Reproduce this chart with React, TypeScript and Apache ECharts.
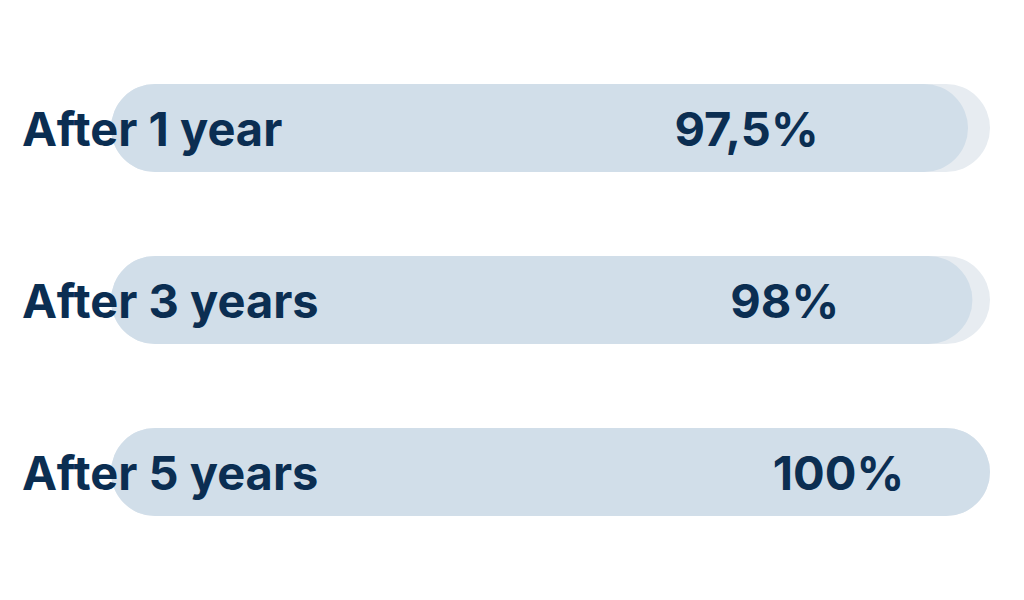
import React, { useEffect, useRef } from "react";
import * as echarts from "echarts";

const categories = ["After 1 year", "After 3 years", "After 5 years"];
const values = [97.5, 98, 100];
const valueLabels = ["97,5%", "98%", "100%"];
const labelOffsets = [207, 243, 288];

const TEXT = "#0b2e52";
const FONT = "Inter, 'DejaVu Sans', sans-serif";

export default function App() {
  const ref = useRef<HTMLDivElement>(null);
  useEffect(() => {
    const chart = echarts.init(ref.current!, undefined, { renderer: "svg" });
    chart.setOption({
      animation: false,
      backgroundColor: "#ffffff",
      grid: { left: 111, right: 34, top: 42, bottom: 42, containLabel: false },
      xAxis: {
        type: "value",
        min: 0,
        max: 100,
        show: false,
      },
      yAxis: {
        type: "category",
        data: categories,
        inverse: true,
        z: 10,
        axisLine: { show: false },
        axisTick: { show: false },
        splitLine: { show: false },
        axisLabel: {
          align: "left",
          margin: 89,
          color: TEXT,
          fontFamily: FONT,
          fontWeight: "bold",
          fontSize: 47,
        },
      },
      series: [
        {
          type: "bar",
          data: values.map((v, i) => ({
            value: v,
            label: {
              show: true,
              position: "inside",
              offset: [labelOffsets[i], 0],
              formatter: valueLabels[i],
            },
          })),
          barWidth: 88,
          showBackground: true,
          backgroundStyle: { color: "#e7ecf1", borderRadius: 44 },
          itemStyle: { color: "#d1dee9", borderRadius: 44 },
          label: {
            color: TEXT,
            fontFamily: FONT,
            fontWeight: "bold",
            fontSize: 47,
          },
        },
      ],
    });
    return () => chart.dispose();
  }, []);
  return (
    <div
      ref={ref}
      style={{ position: "fixed", left: 0, top: 0, width: 1024, height: 600 }}
    />
  );
}
